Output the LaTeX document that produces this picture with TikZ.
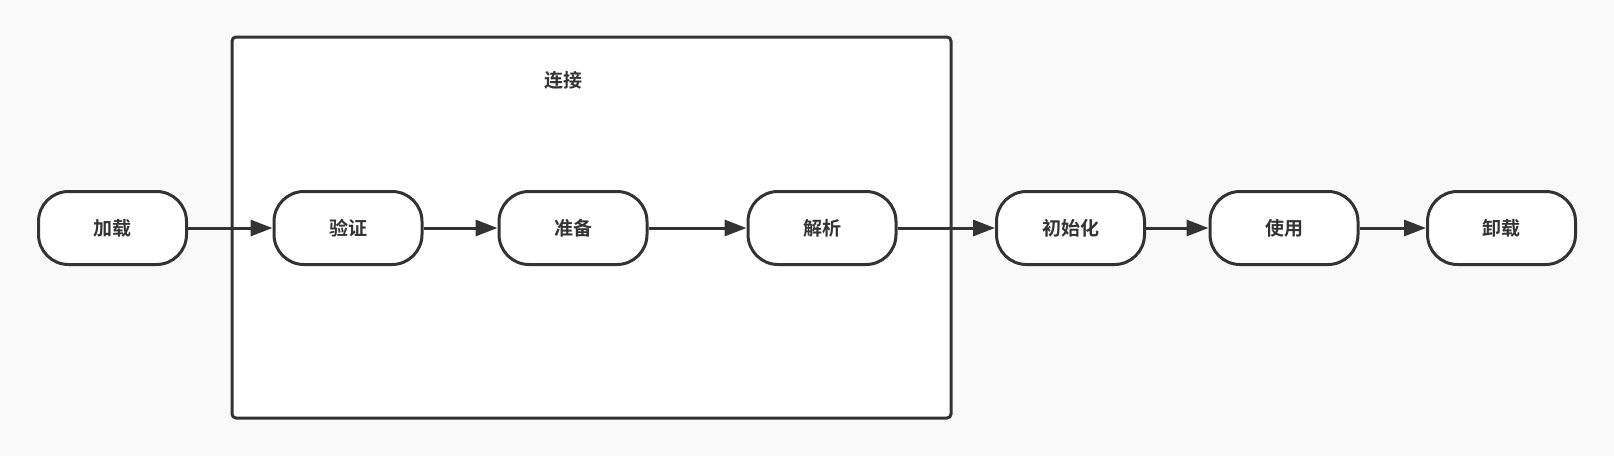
\documentclass[tikz,border=0pt]{standalone}
\usepackage{fontspec}
\newfontfamily\cjk{Noto Sans CJK SC}[BoldFont={Noto Sans CJK SC Bold}]
\usetikzlibrary{arrows.meta}
\definecolor{ink}{HTML}{333333}
\definecolor{bg}{HTML}{F9F9F9}
\tikzset{
  stage/.style={draw=ink, line width=3pt, fill=white, rounded corners=30pt,
    minimum width=148pt, minimum height=73pt, inner sep=0pt,
    font=\cjk\bfseries\fontsize{19pt}{21pt}\selectfont, text=ink},
  flow/.style={draw=ink, line width=3pt, -{Triangle[length=22pt,width=16pt]}},
  group/.style={draw=ink, line width=3pt, fill=white, rounded corners=4pt}
}
\begin{document}
\begin{tikzpicture}[x=1pt,y=-1pt]
\fill[bg] (0,0) rectangle (1614,456);
\useasboundingbox (0,0) rectangle (1614,456);
\draw[group] (232,37) rectangle (951,418);
\node[font=\cjk\bfseries\fontsize{19pt}{21pt}\selectfont, text=ink] (lbl) at (563,80) {连接};
\node[stage] (a) at (112.5,228) {加载};
\node[stage] (b) at (348,228) {验证};
\node[stage] (c) at (573,228) {准备};
\node[stage] (d) at (822,228) {解析};
\node[stage] (e) at (1070.5,228) {初始化};
\node[stage] (f) at (1284,228) {使用};
\node[stage] (g) at (1501.5,228) {卸载};
\draw[flow] (a) -- (b);
\draw[flow] (b) -- (c);
\draw[flow] (c) -- (d);
\draw[flow] (d) -- (e);
\draw[flow] (e) -- (f);
\draw[flow] (f) -- (g);
\end{tikzpicture}
\end{document}
